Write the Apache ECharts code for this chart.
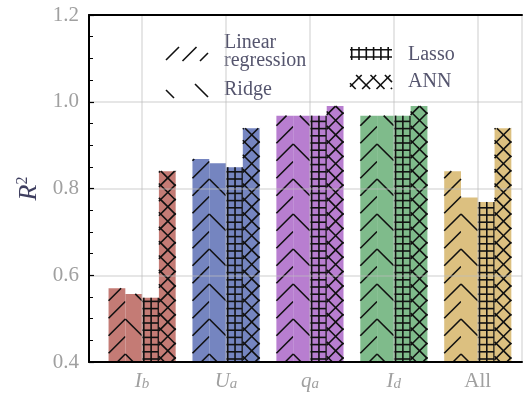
<!DOCTYPE html>
<html>
<head>
<meta charset="utf-8">
<script src="https://cdn.jsdelivr.net/npm/echarts@6/dist/echarts.min.js"></script>
<style>html,body{margin:0;padding:0;background:#fff;}#c{width:525px;height:394px;}</style>
</head>
<body>
<div id="c"></div>
<script>
// ---- data ----
const categories = ['I_b', 'U_a', 'q_a', 'I_d', 'All'];
const models = ['Linear regression', 'Ridge', 'Lasso', 'ANN'];
const linearValues = [0.570, 0.868, 0.968, 0.968, 0.840];
const ridgeValues  = [0.557, 0.858, 0.968, 0.968, 0.779];
const lassoValues  = [0.548, 0.849, 0.968, 0.968, 0.769];
const annValues    = [0.840, 0.939, 0.990, 0.990, 0.939];
const yTicks = [0.4, 0.6, 0.8, 1.0, 1.2];
const categoryColors = ['#c47b75', '#7585c0', '#b87ed0', '#7fbb8b', '#dcc080'];
const hatchTypes = ['lin', 'rdg', 'las', 'ann'];
const seriesValues = [linearValues, ridgeValues, lassoValues, annValues];

// ---- style ----
const SERIF = 'Liberation Serif';
const TICK_COLOR = '#a0a0a0';
const HATCH_COLOR = '#111';
const HATCH_W = 1.6;
const X_MIN = -0.633, X_MAX = 4.527;

function catLabel(c) {
  const m = c.match(/^(.+)_(.+)$/);
  if (m) return '{i|' + m[1] + '}{s|' + m[2] + '}';
  return '{n|' + c + '}';
}
const catLabels = categories.map(catLabel);

function clipSeg(xA, yA, xB, yB, yt, yb) {
  let t0 = 0, t1 = 1;
  const dy = yB - yA;
  if (Math.abs(dy) < 1e-9) {
    if (yA < yt || yA > yb) return null;
  } else {
    const ta = (yt - yA) / dy, tb = (yb - yA) / dy;
    t0 = Math.max(t0, Math.min(ta, tb));
    t1 = Math.min(t1, Math.max(ta, tb));
    if (t1 <= t0) return null;
  }
  return [xA + t0 * (xB - xA), yA + t0 * dy, xA + t1 * (xB - xA), yA + t1 * dy];
}

function hatchSegments(type, xl, xr, yt, yb) {
  const segs = [];
  const w = xr - xl, h = yb - yt;
  function diag(ax, ay, P, dir) {
    const jmin = -Math.ceil((w + 4) / P) - 2;
    const jmax = Math.ceil((h + w + 4) / P) + 2;
    for (let j = jmin; j <= jmax; j++) {
      const y0 = ay - j * P;
      const yA = y0 - dir * (xl - ax), yB = y0 - dir * (xr - ax);
      const s = clipSeg(xl, yA, xr, yB, yt, yb);
      if (s) segs.push(s);
    }
  }
  if (type === 'lin') diag(xr, yb - 8, 17.5, 1);
  else if (type === 'rdg') diag(xl, yb - 8, 35, -1);
  else if (type === 'ann') { diag(xl + 1.7, yb - 4, 14.4, 1); diag(xl + 1.7, yb - 4, 14.4, -1); }
  else if (type === 'las') {
    for (let x = xl + 1.7; x < xr - 0.3; x += 7.3) segs.push([x, yt, x, yb]);
    for (let y = yb - 3; y > yt + 0.5; y -= 7.2) segs.push([xl, y, xr, y]);
  }
  return segs;
}

function segsToLines(segs) {
  return segs.map(s => ({
    type: 'line',
    shape: { x1: s[0], y1: s[1], x2: s[2], y2: s[3] },
    style: { stroke: HATCH_COLOR, lineWidth: HATCH_W }
  }));
}

function makeRender(si) {
  return function (params, api) {
    const ci = api.value(0);
    const v = api.value(1);
    const off = (si - 1.5) * 0.2;
    const pTop = api.coord([ci + off - 0.1, v]);
    const pBot = api.coord([ci + off + 0.1, yTicks[0]]);
    const xl = pTop[0], xr = pBot[0], yt = pTop[1], yb = pBot[1];
    const children = [{
      type: 'rect',
      shape: { x: xl, y: yt, width: xr - xl, height: yb - yt },
      style: { fill: categoryColors[params.dataIndex] }
    }].concat(segsToLines(hatchSegments(hatchTypes[si], xl, xr, yt, yb)));
    return { type: 'group', children: children };
  };
}

const series = seriesValues.map((vals, si) => ({
  type: 'custom',
  name: models[si],
  renderItem: makeRender(si),
  encode: { x: 0, y: 1 },
  data: vals.map((v, i) => [i, v]),
  z: 2
}));

// legend drawn as graphics
function legendPatch(type, x, y, w, h) {
  return { type: 'group', children: segsToLines(hatchSegments(type, x, x + w, y, y + h)) };
}
function legendText(t, x, y) {
  return { type: 'text', x: x, y: y, style: { text: t, font: '20px "' + SERIF + '"', fill: '#55556e', verticalAlign: 'middle', align: 'left' } };
}
const graphics = [
  legendPatch('lin', 166, 47, 42, 14),
  legendText(models[0].split(' ')[0], 224, 43),
  legendText(models[0].split(' ')[1], 224, 61),
  legendPatch('rdg', 166, 84, 42, 14),
  legendText(models[1], 224, 90),
  legendPatch('las', 350, 47, 42, 13),
  legendText(models[2], 408, 55),
  legendPatch('ann', 350, 75, 42, 14),
  legendText(models[3], 408, 82)
];

const chart = echarts.init(document.getElementById('c'), null, { renderer: 'canvas' });
chart.setOption({
  animation: false,
  backgroundColor: '#fff',
  grid: { left: 89, top: 15, right: 0, bottom: 32, show: false, containLabel: false },
  xAxis: [{
    type: 'value', min: X_MIN, max: X_MAX, z: 5,
    axisLine: { show: true, onZero: false, lineStyle: { color: '#000', width: 2 } },
    axisTick: { show: false },
    splitLine: { show: true, lineStyle: { color: 'rgba(190,190,190,0.5)', width: 1.5 } },
    axisLabel: {
      margin: 8,
      formatter: function (v) {
        const idx = Math.round(v);
        if (Math.abs(v - idx) > 1e-6 || idx < 0 || idx >= catLabels.length) return '';
        return catLabels[idx];
      },
      rich: {
        i: { fontFamily: SERIF, fontStyle: 'italic', fontSize: 21, color: TICK_COLOR, lineHeight: 22 },
        s: { fontFamily: SERIF, fontStyle: 'italic', fontSize: 15, color: TICK_COLOR, lineHeight: 12, verticalAlign: 'bottom' },
        n: { fontFamily: SERIF, fontSize: 21, color: TICK_COLOR, lineHeight: 22 }
      }
    }
  }, {
    type: 'value', min: X_MIN, max: X_MAX, position: 'top', z: 5,
    axisLine: { show: true, onZero: false, lineStyle: { color: '#000', width: 2 } },
    axisTick: { show: false }, axisLabel: { show: false }, splitLine: { show: false }
  }],
  yAxis: {
    type: 'value', min: yTicks[0], max: yTicks[yTicks.length - 1], interval: 0.2, z: 5,
    name: '{r|R}{s|2}', nameLocation: 'middle', nameGap: 46, nameRotate: 90,
    nameTextStyle: {
      rich: {
        r: { fontFamily: SERIF, fontStyle: 'italic', fontSize: 26, color: '#3f3f60', lineHeight: 28 },
        s: { fontFamily: SERIF, fontSize: 16, color: '#3f3f60', lineHeight: 14, verticalAlign: 'top' }
      }
    },
    axisLine: { show: true, onZero: false, lineStyle: { color: '#000', width: 2 } },
    axisTick: { show: true, inside: true, length: 5, lineStyle: { color: '#000', width: 1.2 } },
    minorTick: { show: true, splitNumber: 4, length: 4, lineStyle: { color: '#000', width: 1 } },
    splitLine: { show: true, lineStyle: { color: 'rgba(190,190,190,0.5)', width: 1.5 } },
    axisLabel: {
      margin: 10, fontFamily: SERIF, fontSize: 21, color: TICK_COLOR,
      formatter: function (v) { return v.toFixed(1); }
    }
  },
  graphic: graphics,
  series: series
});
</script>
</body>
</html>
